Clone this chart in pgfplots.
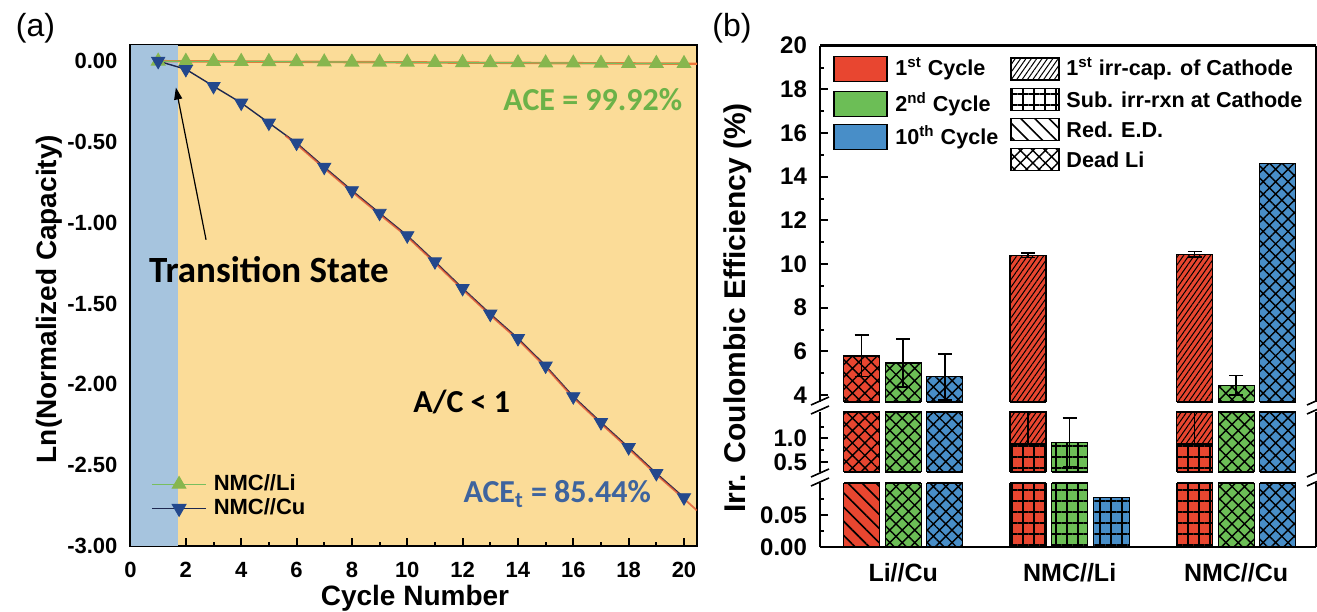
\documentclass[border=0pt]{standalone}
\usepackage{pgfplots}
\pgfplotsset{compat=1.18}
\usetikzlibrary{patterns.meta,arrows.meta}
\usepackage{fontspec}
\setmainfont{Liberation Sans}
\newfontfamily\calib{Carlito}

\definecolor{bgblue}{RGB}{166,196,222}
\definecolor{bgorange}{RGB}{251,220,152}
\definecolor{ligreen}{RGB}{120,190,95}
\definecolor{limark}{RGB}{135,182,78}
\definecolor{culine}{RGB}{30,40,80}
\definecolor{cumark}{RGB}{35,72,140}
\definecolor{fitred}{RGB}{222,78,45}
\definecolor{fitorange}{RGB}{238,118,58}
\definecolor{acegreen}{RGB}{108,178,72}
\definecolor{aceblue}{RGB}{62,100,158}
\definecolor{cred}{RGB}{232,70,48}
\definecolor{cgreen}{RGB}{108,190,86}
\definecolor{cblue}{RGB}{72,142,200}

\tikzset{
  pDead/.style={pattern={Hatch[angle=45,distance=4.4pt,line width=0.7pt]},pattern color=black},
  pGrid/.style={pattern={Hatch[angle=0,distance=5.5pt,line width=0.7pt]},pattern color=black},
  pCath/.style={pattern={Lines[angle=55,distance=2.2pt,line width=0.5pt]},pattern color=black},
  pRed/.style={pattern={Lines[angle=-45,distance=5pt,line width=0.8pt]},pattern color=black},
}
\pgfplotsset{
  barsty/.style={ybar, bar width=18pt, bar shift=0pt, draw=black, line width=0.6pt},
  bseg/.style={
    anchor=south west, scale only axis, width=248pt,
    xmin=-0.5, xmax=2.48,
    axis y line*=box, ytick pos=left, tick align=inside,
    major tick length=4pt, minor tick length=2pt,
    every tick/.style={black, line width=1pt},
    axis line style={line width=1.3pt},
    ticklabel style={font=\bfseries\fontsize{12}{14}\selectfont},
    /pgf/number format/assume math mode=true,
    y tick label style={xshift=-3pt},
    error bars/error bar style={line width=0.8pt, black},
    error bars/error mark options={rotate=90, mark size=3.5pt, line width=0.8pt, black},
  },
  edgesty/.style={only marks, mark=-, mark size=9pt, mark options={line width=1.2pt, draw=black}, forget plot},
}

% bars present in every segment (full bars first, lower parts drawn over them)
\newcommand\barsAll{%
\addplot[barsty, fill=cred, postaction={pDead}, error bars/.cd, y dir=both, y explicit] coordinates {(-0.25,5.79) +- (0,0.95)};
\addplot[barsty, fill=cgreen, postaction={pDead}, error bars/.cd, y dir=both, y explicit] coordinates {(0,5.47) +- (0,1.1) (2,4.45) +- (0,0.45)};
\addplot[barsty, fill=cblue, postaction={pDead}, error bars/.cd, y dir=both, y explicit] coordinates {(0.25,4.83) +- (0,1.05)};
\addplot[barsty, fill=cblue, postaction={pDead}] coordinates {(2.25,14.6)};
\addplot[barsty, fill=cred, postaction={pCath}, error bars/.cd, y dir=both, y explicit] coordinates {(0.75,10.4) +- (0,0.1) (1.75,10.45) +- (0,0.12)};
\addplot[barsty, fill=cred, postaction={pRed}] coordinates {(-0.25,0.2)};
\addplot[barsty, fill=cred, postaction={pGrid}, error bars/.cd, y dir=plus, y explicit] coordinates {(0.75,0.88) +- (0,0.75) (1.75,0.88) +- (0,0.75)};
}
\newcommand\barsGreenGrid{%
\addplot[barsty, fill=cgreen, postaction={pGrid}, error bars/.cd, y dir=both, y explicit] coordinates {(1,0.92) +- (0,0.52)};
}
\newcommand\barsBlueGrid{%
\addplot[barsty, fill=cblue, postaction={pGrid}] coordinates {(1.25,0.077)};
}

\begin{document}
\begin{tikzpicture}
\useasboundingbox (0,0) rectangle (658.5pt,305.5pt);

% ---------------- panel (a) ----------------
\begin{axis}[
  at={(65.25pt,32.5pt)}, anchor=south west, scale only axis,
  width=283.25pt, height=250.5pt,
  xmin=0, xmax=20.47, ymin=-3, ymax=0.1,
  xtick={0,2,4,6,8,10,12,14,16,18,20}, minor x tick num=1,
  ytick={-3,-2.5,-2,-1.5,-1,-0.5,0}, minor y tick num=1,
  tick pos=left, tick align=inside,
  major tick length=4pt, minor tick length=2pt,
  every tick/.style={black, line width=1pt},
  axis line style={line width=1.3pt},
  ticklabel style={font=\bfseries\fontsize{11}{13}\selectfont},
  /pgf/number format/assume math mode=true,
  y tick label style={/pgf/number format/fixed, /pgf/number format/fixed zerofill, /pgf/number format/precision=2, xshift=-3pt},
  x tick label style={anchor=base, yshift=-15.5pt},
  axis background/.style={fill=bgorange},
  legend style={at={(axis cs:0.74,-2.545)}, anchor=north west, draw=none, fill=none,
     inner sep=0pt, row sep=0.5pt, nodes={inner xsep=3.5pt, inner ysep=1pt},
     font=\bfseries\fontsize{11}{13}\selectfont},
  legend cell align=left,
  legend image code/.code={\draw[mark repeat=2, mark phase=2, #1] plot coordinates {(0pt,0pt) (13.5pt,0pt) (27pt,0pt)};},
]
\addplot[draw=none, fill=bgblue, forget plot] coordinates {(0,-3) (0,0.1) (1.72,0.1) (1.72,-3)} -- cycle;
\addplot[fitorange, line width=1.2pt, forget plot] coordinates {(1,0) (20.47,-0.016)};
\addplot[ligreen, line width=0.6pt, mark=triangle*, mark size=3.8pt, mark options={fill=limark, draw=limark}] coordinates {
 (1,0) (2,-0.001) (3,-0.002) (4,-0.002) (5,-0.003) (6,-0.004) (7,-0.005) (8,-0.006) (9,-0.006) (10,-0.007)
 (11,-0.008) (12,-0.009) (13,-0.010) (14,-0.010) (15,-0.011) (16,-0.012) (17,-0.013) (18,-0.014) (19,-0.014) (20,-0.015)};
\addlegendentry{NMC//Li}
\addplot[culine, line width=0.7pt, forget plot] coordinates {
 (1,0) (2,-0.05) (3,-0.155) (4,-0.258) (5,-0.382) (6,-0.506) (7,-0.655) (8,-0.80) (9,-0.94) (10,-1.079)
 (11,-1.24) (12,-1.405) (13,-1.564) (14,-1.715) (15,-1.885) (16,-2.075) (17,-2.235) (18,-2.39) (19,-2.55) (20,-2.70)};
\addplot[fitred, line width=0.9pt, opacity=0.75, forget plot] coordinates {
 (5.6,-0.462) (6,-0.514) (7,-0.663) (8,-0.808) (9,-0.948) (10,-1.087) (11,-1.248) (12,-1.413) (13,-1.572)
 (14,-1.723) (15,-1.893) (16,-2.083) (17,-2.243) (18,-2.398) (19,-2.558) (20,-2.708) (20.47,-2.78)};
\addplot[only marks, mark=triangle*, mark size=3.8pt, mark options={rotate=180, fill=cumark, draw=cumark}, forget plot] coordinates {
 (1,0) (2,-0.05) (3,-0.155) (4,-0.258) (5,-0.382) (6,-0.506) (7,-0.655) (8,-0.80) (9,-0.94) (10,-1.079)
 (11,-1.24) (12,-1.405) (13,-1.564) (14,-1.715) (15,-1.885) (16,-2.075) (17,-2.235) (18,-2.39) (19,-2.55) (20,-2.70)};
\addlegendimage{culine, line width=0.7pt, mark=triangle*, mark size=3.8pt, mark options={rotate=180, fill=cumark, draw=cumark}}
\addlegendentry{NMC//Cu}
\draw[-{Triangle[length=6pt,width=4pt]}, line width=0.6pt] (axis cs:2.73,-1.105) -- (axis cs:1.64,-0.163);
\node[font=\calib\bfseries\fontsize{18.5}{20}\selectfont] at (axis cs:5.0,-1.29) {Transition State};
\node[anchor=east, inner sep=0pt, text=acegreen, font=\calib\bfseries\fontsize{16}{18}\selectfont] at (axis cs:19.95,-0.237) {ACE = 99.92\%};
\node[font=\calib\bfseries\fontsize{16}{18}\selectfont] at (axis cs:11.97,-2.11) {A/C < 1};
\node[text=aceblue, font=\calib\bfseries\fontsize{16}{18}\selectfont] at (axis cs:15.42,-2.68) {ACE\textsubscript{t} = 85.44\%};
\end{axis}

\node[font=\fontsize{16}{18}\selectfont] at (17.75pt,291.25pt) {(a)};
\node[rotate=90, anchor=base, font=\bfseries\fontsize{14}{16}\selectfont] at (28pt,156pt) {Ln(Normalized Capacity)};
\node[anchor=base, font=\bfseries\fontsize{14}{16}\selectfont] at (207.5pt,3pt) {Cycle Number};

% ---------------- panel (b) ----------------
% bottom segment
\begin{axis}[bseg, at={(410pt,32pt)}, height=32pt, ymin=0, ymax=0.1,
  axis x line*=bottom, axis y line*=box, ytick pos=left, tick align=inside,
  ytick={0,0.05}, minor ytick={0.025,0.075},
  y tick label style={/pgf/number format/fixed, /pgf/number format/fixed zerofill, /pgf/number format/precision=2},
  xtick={0,1,2}, xticklabels={Li//Cu,NMC//Li,NMC//Cu},
  major x tick style={draw=none},
  x tick label style={anchor=base, yshift=-17pt, font=\bfseries\fontsize{12.5}{14}\selectfont},
]
\barsAll
\barsGreenGrid
\barsBlueGrid
\addplot[edgesty] coordinates {(-0.25,0.1) (0,0.1) (0.25,0.1) (0.75,0.1) (1,0.1) (1.75,0.1) (2,0.1) (2.25,0.1)};
\end{axis}

% middle segment
\begin{axis}[bseg, at={(410pt,69.65pt)}, height=30pt, ymin=0.29, ymax=1.57,
  hide x axis,
  ytick={0.5,1.0}, minor ytick={0.75,1.25},
  y tick label style={/pgf/number format/fixed, /pgf/number format/fixed zerofill, /pgf/number format/precision=1},
]
\barsAll
\barsGreenGrid
\addplot[edgesty] coordinates {(-0.25,0.29) (0,0.29) (0.25,0.29) (0.75,0.29) (1,0.29) (1.75,0.29) (2,0.29) (2.25,0.29)};
\addplot[edgesty] coordinates {(-0.25,1.57) (0,1.57) (0.25,1.57) (0.75,1.57) (1.75,1.57) (2,1.57) (2.25,1.57)};
\end{axis}

% top segment
\begin{axis}[bseg, at={(410pt,104.5pt)}, height=178.15pt, ymin=3.68, ymax=20,
  axis x line*=top, axis y line*=box, ytick pos=left, tick align=inside,
  xtick=\empty,
  ytick={4,6,...,20}, minor y tick num=1,
]
\barsAll
\addplot[edgesty] coordinates {(-0.25,3.68) (0,3.68) (0.25,3.68) (0.75,3.68) (1.75,3.68) (2,3.68) (2.25,3.68)};
\end{axis}

% break marks
\draw[line width=0.8pt] (405.5pt,62.5pt) -- (414.5pt,66.5pt) (405.5pt,67pt) -- (414.5pt,71pt);
\draw[line width=0.8pt] (405.5pt,98.5pt) -- (414.5pt,102.5pt) (405.5pt,103pt) -- (414.5pt,107pt);
\draw[line width=0.8pt] (653.5pt,62.5pt) -- (662.5pt,66.5pt) (653.5pt,67pt) -- (662.5pt,71pt);
\draw[line width=0.8pt] (653.5pt,98.5pt) -- (662.5pt,102.5pt) (653.5pt,103pt) -- (662.5pt,107pt);

% legend (b)
\begin{scope}[line width=0.7pt]
\draw[fill=cred] (417pt,264.75pt) rectangle (443.5pt,277.25pt);
\draw[fill=cgreen] (417pt,247.25pt) rectangle (443.5pt,259.75pt);
\draw[fill=cblue] (417pt,230.75pt) rectangle (443.5pt,243.25pt);
\draw[pCath] (505.5pt,265.5pt) rectangle (529.5pt,276.5pt);
\draw[pGrid] (505.5pt,250.25pt) rectangle (529.5pt,261.25pt);
\draw[pRed] (505.5pt,235.25pt) rectangle (529.5pt,246.25pt);
\draw[pDead] (505.5pt,220.25pt) rectangle (529.5pt,231.25pt);
\end{scope}
\begin{scope}[every node/.style={anchor=west, inner sep=0pt, font=\bfseries\fontsize{10.8}{12}\selectfont}]
\node at (447.5pt,271pt) {1\textsuperscript{st} Cycle};
\node at (447.5pt,253.5pt) {2\textsuperscript{nd} Cycle};
\node at (447.5pt,237pt) {10\textsuperscript{th} Cycle};
\node at (533pt,271pt) {1\textsuperscript{st} irr-cap. of Cathode};
\node at (533pt,255.75pt) {Sub. irr-rxn at Cathode};
\node at (533pt,240.75pt) {Red. E.D.};
\node at (533pt,225.75pt) {Dead Li};
\end{scope}

\node[font=\fontsize{16}{18}\selectfont] at (366pt,291.5pt) {(b)};
\node[rotate=90, anchor=base, font=\bfseries\fontsize{15}{17}\selectfont] at (372.5pt,151.5pt) {Irr. Coulombic Efficiency (\%)};
\end{tikzpicture}
\end{document}
